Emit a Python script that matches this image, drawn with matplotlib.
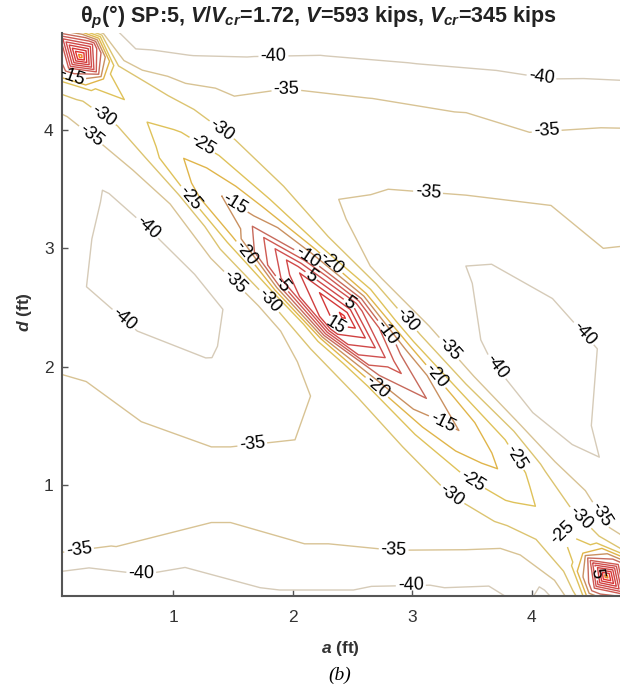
import numpy as np
import matplotlib.pyplot as plt

plt.rcParams['font.family'] = ['Liberation Sans', 'DejaVu Sans']
plt.rcParams['mathtext.fontset'] = 'custom'
plt.rcParams['mathtext.rm'] = 'Liberation Sans:bold'
plt.rcParams['mathtext.it'] = 'Liberation Sans:italic:bold'
plt.rcParams['mathtext.bf'] = 'Liberation Sans:bold'

########################################################
# grid rotacionado: p = a + d (atravessa a crista), q = a - d (ao longo da crista), em ft
p_grid = [0.0, 1.0, 2.0, 2.8, 3.4, 3.9, 4.2, 4.45, 4.65, 4.85, 5.05, 5.25, 5.5, 5.8, 6.3, 6.9, 7.6, 8.6, 9.6]
q_grid = [-4.8, -4.4, -4.0, -3.5, -3.0, -2.4, -1.6, -0.8, 0.0, 0.8, 1.6, 2.4, 3.0, 3.5, 4.0, 4.4, 4.8]

# theta_p (graus), uma linha por valor de q
theta_p = [
    [-36, -35, -35, -35, -35, -35, -34, -30, -20, -10, -35, -40, -43, -44, -45, -46, -47, -48, -49],
    [-36, -35, -35, -35, -35, -35, -33, -25, -5, 28, 0, -38, -42, -44, -45, -46, -47, -48, -49],
    [-36, -35, -35, -36, -36, -37, -35.5, -31, -26, -22, -28, -39, -41, -43, -45, -46, -47, -48, -49],
    [-36, -35, -36, -37, -37.5, -38.5, -36, -33, -28, -26.5, -28, -30.5, -37.5, -40.3, -43, -45, -46, -47, -48],
    [-36, -35, -36, -38, -39, -40.3, -37, -33, -26, -23, -25.5, -29, -31.5, -36.5, -40.5, -43, -45, -46, -47],
    [-36, -35, -37, -39.5, -41.5, -40.5, -38, -33, -21, -17.5, -22, -27, -31, -32.5, -35, -40.3, -43, -45, -46],
    [-34, -34, -34, -39.5, -41, -41, -36, -28, -17, -12, -18, -26, -31, -33, -33.5, -34.7, -40.5, -43, -45],
    [-34, -33.5, -33.5, -38, -40.2, -39.5, -36, -27, 1, 9, -10, -25, -33.5, -35.8, -34.5, -33, -35.3, -43, -45],
    [-48, -34.5, -33, -35.5, -37, -36.5, -34, -24, 13, 21, 2, -22, -35.5, -38, -38.5, -35, -33, -38.5, -44],
    [-43, -43, -35.5, -33, -34.5, -33.5, -32, -26, -10, -3, -12, -27, -35.5, -37.8, -40.5, -39.2, -34.5, -33.5, -40],
    [-42, -43, -39.5, -33.5, -33, -32.5, -31, -25, -17, -12.5, -18, -28, -37.5, -41, -41.5, -39.5, -35, -33.5, -38],
    [-42, -43, -41.7, -39.5, -34, -32.5, -30.5, -26.5, -22, -18.5, -22, -27.5, -39, -41.5, -42, -39, -37, -35, -36],
    [-42, -43, -43, -42, -39.6, -35, -32.5, -29, -25.5, -23.5, -26, -30.5, -38.5, -41, -38.5, -37, -36, -35, -36],
    [-42, -43, -43, -42, -41, -39.7, -37, -32.5, -28.5, -27, -28.5, -32, -37, -39.5, -38.5, -37, -36, -35, -36],
    [-42, -43, -43, -42, -41, -40, -40.5, -33, -26, -21, -27, -34.5, -38, -39, -38.5, -37, -36, -35, -36],
    [-42, -43, -43, -42, -41, -40, -40, -28, -5, 28, -5, -32, -38, -39, -38.5, -37, -36, -35, -36],
    [-42, -43, -43, -42, -41, -40, -40, -35, -25, -15, -30, -36, -39, -39, -38.5, -37, -36, -35, -36],
]

niveis = [-40, -35, -30, -25, -20, -15, -10, -5, 0, 5, 10, 15, 20, 25, 30, 35, 40]
cores = ['#d6cbb8', '#d8c394', '#dcc470', '#dfc25a', '#e0b54a', '#c99060', '#c76a5c',
         '#cf5a52', '#d05050', '#d04848', '#d04040', '#d43838', '#e03030',
         '#f08020', '#f0b020', '#f0c020', '#7cc060']

# onde os rótulos aparecem na figura (a, d)
pos_rotulos = [
    (1.84, 4.60), (4.08, 4.43), (1.95, 4.33), (4.12, 4.09),
    (0.15, 4.45), (0.39, 4.08), (0.33, 3.98), (1.39, 3.98), (1.23, 3.85),
    (3.14, 3.56), (1.17, 3.45), (1.54, 3.41), (0.81, 3.20), (1.62, 2.97),
    (2.12, 2.92), (2.32, 2.87), (2.15, 2.76), (1.50, 2.70), (1.91, 2.70),
    (1.81, 2.56), (2.48, 2.54), (2.36, 2.33), (2.93, 2.37), (2.78, 2.28),
    (0.51, 2.31), (3.30, 2.14), (3.71, 2.00), (4.45, 2.29), (3.19, 1.91),
    (2.71, 1.83), (3.24, 1.50), (1.67, 1.27), (3.80, 1.19), (3.49, 1.01),
    (3.32, 0.89), (4.24, 0.70), (4.37, 0.68), (4.57, 0.74), (2.84, 0.39),
    (0.74, 0.30), (0.22, 0.39), (2.99, 0.11), (4.55, 0.25),
]

########################################################
P, Q = np.meshgrid(p_grid, q_grid)
A = (P + Q) / 2
D = (P - Q) / 2
Z = np.array(theta_p)

fig = plt.figure(figsize=(6.2, 6.92), dpi=100)
ax = fig.add_axes([0.1, 0.139, 0.9, 0.813])

cs = ax.contour(A, D, Z, levels=niveis, colors=cores, linewidths=1.0)

ax.set_xlim(0.07, 4.74)
ax.set_ylim(0.06, 4.82)

ax.clabel(cs, fmt='%d', fontsize=13, inline=True, inline_spacing=2,
          colors='k', manual=pos_rotulos)

ax.set_xticks([1, 2, 3, 4])
ax.set_yticks([1, 2, 3, 4])
ax.tick_params(direction='in', length=4, width=1, colors='#555555',
               labelcolor='#333333', labelsize=12.5)
ax.tick_params(axis='x', pad=10)
ax.tick_params(axis='y', pad=6)

for lado in ['top', 'right']:
    ax.spines[lado].set_visible(False)
for lado in ['left', 'bottom']:
    ax.spines[lado].set_color('#555555')
    ax.spines[lado].set_linewidth(1.5)

fig.text(340 / 620, 1 - 648 / 692, '$a$ (ft)', ha='center', va='center',
         fontsize=12.5, fontweight='bold', color='#333333')
fig.text(25 / 620, 1 - 312 / 692, '$d$ (ft)', ha='center', va='center',
         fontsize=12.5, fontweight='bold', color='#333333', rotation=90)

fig.text(318 / 620, 1 - 17 / 692,
         'θ$_p$(°) SP:5, $V$/$V_{cr}$=1.72, $V$=593 kips, $V_{cr}$=345 kips',
         ha='center', va='center', fontsize=15.5, fontweight='bold', color='#222222')

fig.text(340 / 620, 1 - 675 / 692, '(b)', ha='center', va='center',
         fontsize=14, style='italic', family='Liberation Serif')

fig.savefig('out.png', dpi=100)
